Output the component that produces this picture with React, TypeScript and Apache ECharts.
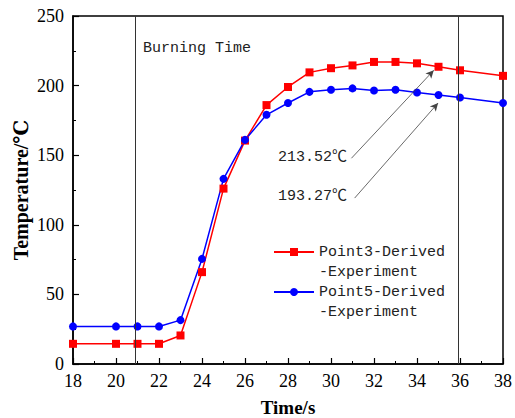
import React, { useEffect, useRef } from "react";
import * as echarts from "echarts";

// ---- data ----
const times = [18, 20, 21, 22, 23, 24, 25, 26, 27, 28, 29, 30, 31, 32, 33, 34, 35, 36, 38];
const point3 = [14.5, 14.5, 14.5, 14.5, 20.5, 66, 126, 160.5, 186, 199, 209.5, 212.5, 214.5, 217, 217, 216, 213.52, 211, 207];
const point5 = [27, 27, 27, 27, 31.5, 75.5, 133, 161, 179, 187.5, 195.5, 197, 198, 196.5, 197, 195, 193.27, 191.5, 187.5];
const seriesNames = ["Point3-Derived\n-Experiment", "Point5-Derived\n-Experiment"];
const burningLines = [20.9, 35.9];
const burningLabel = "Burning Time";
const annotLabels = ["213.52℃", "193.27℃"];
// arrow start/end in data coordinates
const arrow1 = [[30.95, 147.8], [34.78, 211.0]];
const arrow2 = [[31.1, 119.2], [34.98, 187.5]];
const xTicks = { min: 18, max: 38, interval: 2 };
const yTicks = { min: 0, max: 250, interval: 50 };

const mono = "'Liberation Mono', 'Noto Sans CJK SC', monospace";
const serif = "'Liberation Serif', 'DejaVu Serif', serif";

export default function App() {
  const ref = useRef<HTMLDivElement>(null);
  useEffect(() => {
    if (!ref.current) return;
    const chart = echarts.init(ref.current, null, { renderer: "svg" });
    const toPairs = (ys: number[]) => times.map((t, i) => [t, ys[i]]);
    chart.setOption({
      animation: false,
      backgroundColor: "#fff",
      grid: {
        left: 73,
        right: 12,
        top: 16,
        bottom: 54,
        outerBoundsMode: "none",
        containLabel: false,
        show: true,
        borderColor: "#000",
        borderWidth: 1.5,
        backgroundColor: "transparent",
      },
      legend: {
        left: 273,
        top: 222,
        orient: "vertical",
        padding: 0,
        itemGap: -20,
        itemWidth: 40,
        itemHeight: 10,
        data: seriesNames,
        // leading empty line so the icon sits on the first text line
        formatter: (name: string) => "\n" + name,
        textStyle: {
          fontFamily: mono,
          fontSize: 15,
          lineHeight: 20,
          color: "#222",
        },
      },
      xAxis: {
        type: "value",
        min: xTicks.min,
        max: xTicks.max,
        interval: xTicks.interval,
        name: "Time/s",
        nameLocation: "middle",
        nameGap: 34,
        nameMoveOverlap: false,
        nameTextStyle: { fontFamily: serif, fontSize: 19, fontWeight: "bold", color: "#000" },
        axisLine: { lineStyle: { color: "#000", width: 1.5 } },
        axisTick: { inside: true, length: 6, lineStyle: { color: "#000", width: 1.2 } },
        minorTick: { show: true, splitNumber: 2, length: 3, lineStyle: { color: "#000", width: 1 } },
        splitLine: { show: false },
        axisLabel: { fontFamily: serif, fontSize: 18, color: "#000", margin: 8 },
      },
      yAxis: {
        type: "value",
        min: yTicks.min,
        max: yTicks.max,
        interval: yTicks.interval,
        name: "Temperature/℃",
        nameLocation: "middle",
        nameGap: 42,
        nameMoveOverlap: false,
        nameTextStyle: { fontFamily: serif, fontSize: 20, fontWeight: "bold", color: "#000" },
        axisLine: { show: true, lineStyle: { color: "#000", width: 1.5 } },
        axisTick: { show: true, inside: true, length: 6, lineStyle: { color: "#000", width: 1.2 } },
        minorTick: { show: true, splitNumber: 2, length: 3, lineStyle: { color: "#000", width: 1 } },
        splitLine: { show: false },
        axisLabel: { fontFamily: serif, fontSize: 18, color: "#000", margin: 9 },
      },
      series: [
        {
          name: seriesNames[0],
          type: "line",
          data: toPairs(point3),
          symbol: "rect",
          symbolSize: 8,
          itemStyle: { color: "#ff0000" },
          lineStyle: { color: "#ff0000", width: 1.5 },
          markLine: {
            silent: true,
            symbol: ["none", "none"],
            label: { show: false },
            lineStyle: { color: "#333", width: 1, type: "solid" },
            data: burningLines.map((v) => ({ xAxis: v })),
          },
        },
        {
          name: seriesNames[1],
          type: "line",
          data: toPairs(point5),
          symbol: "circle",
          symbolSize: 8,
          itemStyle: { color: "#0000ff" },
          lineStyle: { color: "#0000ff", width: 1.5 },
          markLine: {
            silent: true,
            symbol: ["none", "arrow"],
            symbolSize: [6, 8],
            label: { show: false },
            lineStyle: { color: "#444", width: 0.8, type: "solid" },
            data: [
              [{ coord: arrow1[0] }, { coord: arrow1[1] }],
              [{ coord: arrow2[0] }, { coord: arrow2[1] }],
            ],
          },
        },
      ],
      graphic: [
        {
          type: "text",
          left: 143,
          top: 41,
          style: { text: burningLabel, fontFamily: mono, fontSize: 15, fill: "#222" },
        },
        {
          type: "text",
          left: 278,
          top: 150,
          style: { text: annotLabels[0], fontFamily: mono, fontSize: 15, fill: "#222" },
        },
        {
          type: "text",
          left: 278,
          top: 189,
          style: { text: annotLabels[1], fontFamily: mono, fontSize: 15, fill: "#222" },
        },
      ],
    });
    return () => chart.dispose();
  }, []);
  return (
    <div
      ref={ref}
      style={{ position: "fixed", left: 0, top: 0, width: 515, height: 418, background: "#fff" }}
    />
  );
}
